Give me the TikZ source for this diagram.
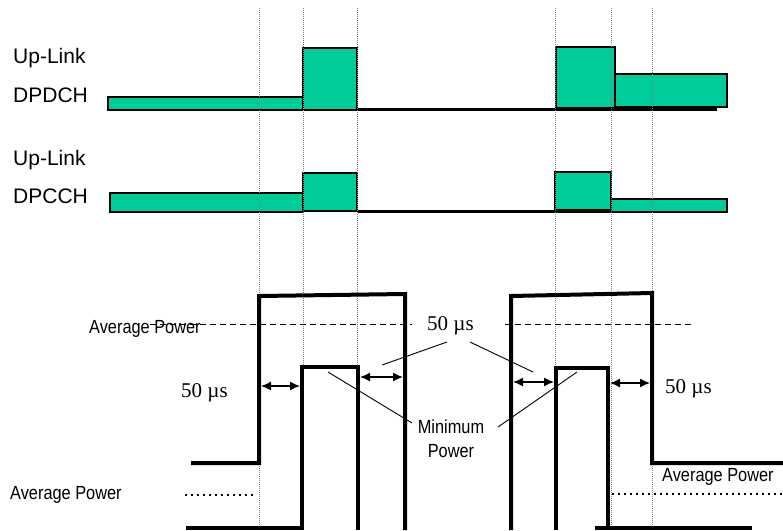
\documentclass[tikz,border=0pt]{standalone}
\usepackage{fontspec}
\setmainfont{Liberation Sans}
\newfontfamily\narrowsans[FakeStretch=0.86]{Liberation Sans}
\newfontfamily\serifnum{Liberation Serif}
\usepackage{tikz}
\usetikzlibrary{arrows.meta}
\usetikzlibrary{positioning}
\definecolor{ch-fill}{HTML}{00CC99}
\definecolor{ch-grid}{HTML}{7F7F7F}

\begin{document}
\begin{tikzpicture}[x=1pt, y=-1pt, >={Latex[length=10pt,width=9pt]},
    burst/.style={draw=black, fill=ch-fill, line width=1.4pt},
    idle/.style={line width=3pt},
    envelope/.style={line width=4pt, line join=miter},
    timeline/.style={ch-grid, line width=0.8pt, dash pattern=on 1pt off 1pt},
    leader/.style={line width=0.9pt},
    gap/.style={<->, line width=1.4pt},
    chlabel/.style={font=\fontsize{21}{25}\selectfont, anchor=base west, inner sep=0pt},
    pwrlabel/.style={font=\narrowsans\fontsize{19}{23}\selectfont, inner sep=0pt},
    timelabel/.style={font=\serifnum\fontsize{21}{25}\selectfont, anchor=base west, inner sep=0pt}]
    \useasboundingbox (0,0) rectangle (783,530);

    \node[chlabel] (uplinkd) at (13,63) {Up-Link};
    \node[chlabel] (dpdch) at (13,102) {DPDCH};
    \node[chlabel] (uplinkc) at (13,165) {Up-Link};
    \node[chlabel] (dpcch) at (13,203) {DPCCH};

    \draw[idle] (357,109) -- (717,109);
    \draw[idle] (357,211) -- (611,211);
    \draw[burst] (108,97) rectangle (303,110);
    \draw[burst] (303,48) rectangle (357,110);
    \draw[burst] (556,47) rectangle (615,108);
    \draw[burst] (615,74) rectangle (727,107);
    \draw[burst] (110,193) rectangle (303,212);
    \draw[burst] (303,173) rectangle (357,211);
    \draw[burst] (608,199) rectangle (727,212);
    \draw[burst] (555,172) rectangle (611,210);

    \foreach \t in {259,303,357,555,611,652}
        \draw[timeline] (\t,8) -- (\t,530);

    \draw[line width=0.9pt, dash pattern=on 6pt off 4pt] (150,324) -- (412,324);
    \draw[line width=0.9pt, dash pattern=on 6pt off 4pt] (505,324) -- (693,324);
    \draw[line width=1.5pt, dash pattern=on 1.5pt off 4.5pt] (185,495) -- (257,495);
    \draw[line width=1.5pt, dash pattern=on 1.5pt off 4.5pt] (612,494) -- (783,494);

    \draw[envelope] (191,463) -- (259,463) -- (259,296) -- (405,294) -- (405,530);
    \draw[envelope] (186,528) -- (302,528) -- (302,367) -- (358,367) -- (358,530);
    \draw[envelope] (511,530) -- (511,296) -- (652,293) -- (652,463) -- (783,463);
    \draw[envelope] (556,530) -- (556,368) -- (608,368) -- (608,530);
    \draw[envelope] (595,528) -- (752,528);

    \node[pwrlabel, anchor=base west] (avgtop) at (89,333) {Average Power};
    \node[pwrlabel, anchor=base west] (avgright) at (662,481) {Average Power};
    \node[pwrlabel, anchor=base west] (avgleft) at (10,499) {Average Power};
    \node[pwrlabel, anchor=base] (minimum) at (451,433) {Minimum};
    \node[pwrlabel, below=11pt of minimum] (power) {Power};

    \node[timelabel] (tleft) at (181,397) {50 µs};
    \node[timelabel] (tmid) at (427,330) {50 µs};
    \node[timelabel] (tright) at (665,393) {50 µs};

    \draw[gap] (261,386) -- (300,386);
    \draw[gap] (360,377) -- (403,377);
    \draw[gap] (513,382) -- (554,382);
    \draw[gap] (610,383) -- (650,383);

    \draw[leader] (447,342) -- (382,365);
    \draw[leader] (470,342) -- (533,372);
    \draw[leader] (412,423) -- (328,372);
    \draw[leader] (498,427) -- (577,372);
\end{tikzpicture}
\end{document}
